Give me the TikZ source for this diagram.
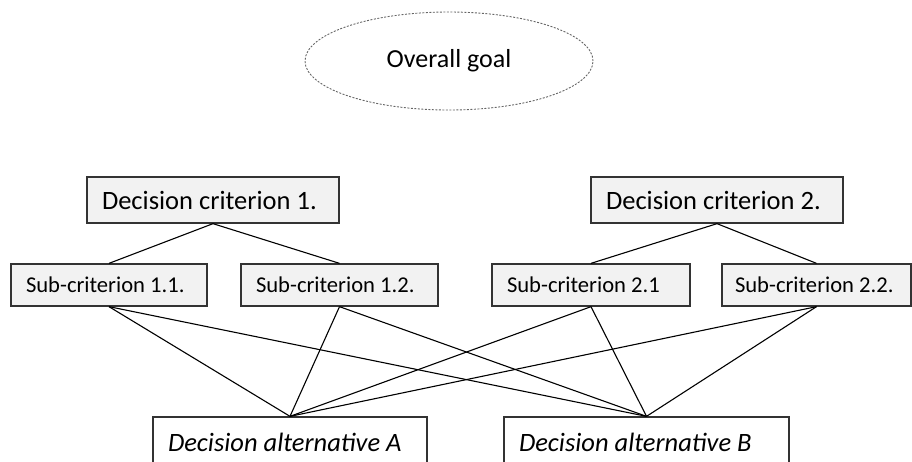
\documentclass[tikz,border=0pt]{standalone}
\usepackage{fontspec}
\setmainfont{Carlito}
\usepackage{xcolor}
\usepackage{tikz}
\usetikzlibrary{shapes.geometric}

\definecolor{boxfill}{HTML}{F2F2F2}

\tikzset{
  goalnode/.style={ellipse, draw=black!60, line width=0.9pt, dash pattern=on 2pt off 1.5pt,
    minimum width=288pt, minimum height=98pt, inner sep=0pt, font=\fontsize{26}{30}\selectfont},
  critbox/.style={rectangle, draw=black!80, fill=boxfill, line width=1.3pt,
    text width=222pt, minimum height=46pt, inner xsep=15pt, inner ysep=0pt, align=flush left,
    font=\fontsize{26.5}{30}\selectfont},
  subbox/.style={rectangle, draw=black!80, fill=boxfill, line width=1.3pt,
    minimum height=42pt, inner xsep=15pt, inner ysep=0pt, align=flush left,
    font=\fontsize{22.6}{26}\selectfont},
  altbox/.style={rectangle, draw=black!80, fill=white, line width=1.3pt,
    minimum height=50pt, inner xsep=15pt, inner ysep=0pt, align=flush left,
    font=\fontsize{26.5}{30}\selectfont\itshape},
  link/.style={draw=black, line width=1.1pt}
}

\begin{document}
\begin{tikzpicture}[x=1pt,y=-1pt]

\useasboundingbox (0,0) rectangle (912,461);
\clip (0,0) rectangle (912,461);

\node[goalnode] (goal) at (449,61) {Overall goal};

\node[critbox] (crit1) at (213,200) {Decision criterion 1.};
\node[critbox] (crit2) at (717,200) {Decision criterion 2.};

\node[subbox, text width=166pt] (sub11) at (109,285) {Sub-criterion 1.1.};
\node[subbox, text width=167pt] (sub12) at (339.5,285) {Sub-criterion 1.2.};
\node[subbox, text width=168pt] (sub21) at (591,285) {Sub-criterion 2.1};
\node[subbox, text width=163pt, inner xsep=13pt] (sub22) at (816.5,285) {Sub-criterion 2.2.};

\node[altbox, text width=244pt] (altA) at (290,442) {Decision alternative A};
\node[altbox, text width=255pt] (altB) at (646.5,442) {Decision alternative B};

% criteria to sub-criteria
\draw[link] (crit1.south) -- (sub11.north);
\draw[link] (crit1.south) -- (sub12.north);
\draw[link] (crit2.south) -- (sub21.north);
\draw[link] (crit2.south) -- (sub22.north);

% sub-criteria to alternatives
\foreach \s in {sub11,sub12,sub21,sub22}{
  \draw[link] (\s.south) -- (altA.north);
  \draw[link] (\s.south) -- (altB.north);
}

\end{tikzpicture}
\end{document}
